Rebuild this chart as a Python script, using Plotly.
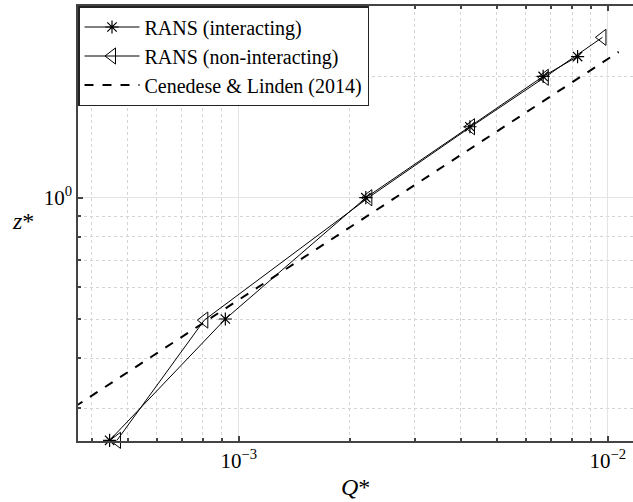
import plotly.graph_objects as go
import numpy as np

# RANS (interacting)
q_int = [4.47e-4, 9.2e-4, 2.21e-3, 4.23e-3, 6.68e-3, 8.28e-3]
z_int = [0.250, 0.500, 1.00, 1.50, 2.00, 2.24]
# RANS (non-interacting)
q_non = [4.68e-4, 8.07e-4, 2.245e-3, 4.26e-3, 6.75e-3, 9.67e-3]
z_non = [0.250, 0.497, 1.00, 1.50, 1.99, 2.50]
# Cenedese & Linden (2014)
q_cl = [3.6e-4, 1.07e-2]
z_cl = [0.303, 2.30]

x_major = [1e-3, 1e-2]
x_major_text = ["10<sup>−3</sup>", "10<sup>−2</sup>"]
y_major = [1.0]
y_major_text = ["10<sup>0</sup>"]
x_minor = [4e-4, 5e-4, 6e-4, 7e-4, 8e-4, 9e-4, 2e-3, 3e-3, 4e-3, 5e-3, 6e-3, 7e-3, 8e-3, 9e-3]
y_minor = [0.3, 0.4, 0.5, 0.6, 0.7, 0.8, 0.9, 2.0, 3.0]

FONT = "Liberation Serif"

fig = go.Figure()
fig.add_trace(go.Scatter(
    x=q_int, y=z_int, mode="lines+markers", name="RANS (interacting)",
    line=dict(color="black", width=1),
    marker=dict(symbol="asterisk-open", size=11, color="black", line=dict(color="black", width=1.2)),
    cliponaxis=False,
))
fig.add_trace(go.Scatter(
    x=q_non, y=z_non, mode="lines+markers", name="RANS (non-interacting)",
    line=dict(color="black", width=1),
    marker=dict(symbol="triangle-left-open", size=14, color="black", line=dict(color="black", width=1)),
    cliponaxis=False,
))
fig.add_trace(go.Scatter(
    x=q_cl, y=z_cl, mode="lines", name="Cenedese & Linden (2014)",
    line=dict(color="black", width=2, dash="dash"),
))

axis_common = dict(
    type="log",
    showline=True, linecolor="#444", linewidth=1.5,
    ticks="inside", ticklen=5, tickcolor="#444", tickwidth=1.5,
    showgrid=True, gridcolor="#e4e4e4", gridwidth=1.2,
    zeroline=False,
    tickfont=dict(family=FONT, size=21, color="black"),
)

fig.update_xaxes(
    **axis_common,
    range=[np.log10(3.67e-4), np.log10(1.17e-2)],
    tickmode="array", tickvals=x_major, ticktext=x_major_text,
    mirror="ticks",
    minor=dict(tickmode="array", tickvals=x_minor, ticks="inside", ticklen=3,
               tickcolor="#444", showgrid=True, gridcolor="#d4d4d4", griddash="dot", gridwidth=1),
)
fig.update_yaxes(
    **axis_common,
    range=[-0.6037, 0.4757],
    tickmode="array", tickvals=y_major, ticktext=y_major_text,
    minor=dict(tickmode="array", tickvals=y_minor, ticks="inside", ticklen=3,
               tickcolor="#444", showgrid=True, gridcolor="#d4d4d4", griddash="dot", gridwidth=1),
)

fig.add_annotation(text="<i>Q</i>*", xref="paper", yref="paper", x=0.5, y=-0.105,
                   xanchor="center", yanchor="middle", showarrow=False,
                   font=dict(family=FONT, size=24, color="black"))
fig.add_annotation(text="<i>z</i>*", xref="paper", yref="paper", x=-0.1, y=0.505,
                   xanchor="center", yanchor="middle", showarrow=False,
                   font=dict(family=FONT, size=24, color="black"))

fig.update_layout(
    width=633, height=502,
    margin=dict(l=78, r=0, t=6, b=61),
    paper_bgcolor="white", plot_bgcolor="white",
    showlegend=True,
    legend=dict(
        x=0, y=1, xanchor="left", yanchor="top",
        bgcolor="white", bordercolor="#222", borderwidth=1.5,
        font=dict(family=FONT, size=20, color="black"),
        itemwidth=55, tracegroupgap=0,
    ),
    font=dict(family=FONT, color="black"),
)

fig.write_html("out.html")
